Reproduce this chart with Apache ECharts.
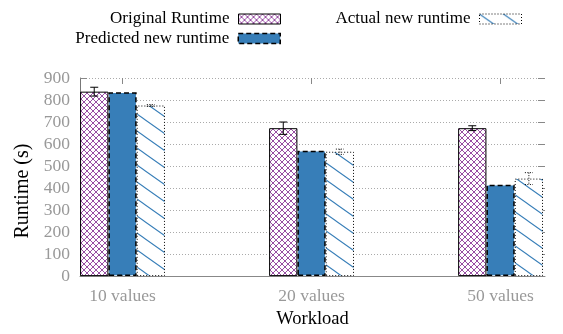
<!DOCTYPE html>
<html>
<head>
<meta charset="utf-8">
<script src="https://cdn.jsdelivr.net/npm/echarts@6/dist/echarts.min.js"></script>
<style>
  html, body { margin: 0; padding: 0; background: #fff; }
  #chart { width: 563px; height: 334px; }
</style>
</head>
<body>
<div id="chart"></div>
<script>
// Workload categories and measured runtimes (seconds)
const categories = ['10 values', '20 values', '50 values'];
const originalRuntime = [838, 672, 672];
const originalErr = [20, 28, 11];
const predictedRuntime = [835, 570, 415];
const actualRuntime = [775, 565, 443];
const actualErr = [4, 12, 27];
const categoryTicks = [0, 1, 2];

const FONT = '"Liberation Serif", "Times New Roman", Times, serif';
const PURPLE = '#984ea3';
const BLUE = '#377eb8';
const BAR_W = 28.3;
const DASHED = [5, 3];
const DOTTED = [1, 2];

// Crosshatch fill (diagonal grid) used for the original runtime bars
function crossHatch() {
  const s = 6;
  const c = document.createElement('canvas');
  c.width = s; c.height = s;
  const g = c.getContext('2d');
  g.fillStyle = '#fff'; g.fillRect(0, 0, s, s);
  g.strokeStyle = PURPLE; g.lineWidth = 1;
  g.beginPath();
  // "\" direction: y = x + k
  for (const k of [-s, 0, s]) {
    g.moveTo(-1, -1 + k); g.lineTo(s + 1, s + 1 + k);
  }
  // "/" direction: x + y = k
  for (const k of [0, s, 2 * s]) {
    g.moveTo(-1, k + 1); g.lineTo(k + 1, -1);
  }
  g.stroke();
  return c;
}

// Sparse "\" diagonal lines used for the actual runtime bars
function diagLines() {
  const w = 24, h = 17;
  const c = document.createElement('canvas');
  c.width = w; c.height = h;
  const g = c.getContext('2d');
  g.fillStyle = '#fff'; g.fillRect(0, 0, w, h);
  g.strokeStyle = BLUE; g.lineWidth = 1.1;
  g.beginPath();
  for (const k of [-h, 0, h]) {
    g.moveTo(-w, -h + k); g.lineTo(2 * w, 2 * h + k);
  }
  g.stroke();
  return c;
}

const hatchFill = { image: crossHatch(), repeat: 'repeat' };
const lineFill = { image: diagLines(), repeat: 'repeat' };

// I-beam error bars, shifted horizontally onto the matching bar
function errorBars(offsetPx, dash) {
  return function (params, api) {
    const i = api.value(0), v = api.value(1), e = api.value(2);
    const hi = api.coord([i, v + e]);
    const lo = api.coord([i, v - e]);
    const x = hi[0] + offsetPx;
    const cap = 4;
    const st = { stroke: '#000', lineWidth: 1, lineDash: dash };
    return {
      type: 'group',
      children: [
        { type: 'line', shape: { x1: x, y1: hi[1], x2: x, y2: lo[1] }, style: st },
        { type: 'line', shape: { x1: x - cap, y1: hi[1], x2: x + cap, y2: hi[1] }, style: st },
        { type: 'line', shape: { x1: x - cap, y1: lo[1], x2: x + cap, y2: lo[1] }, style: st }
      ]
    };
  };
}

const xMin = -0.225, xMax = 2.235;
const axisGray = '#888';
const labelGray = '#999';

const legendBase = {
  orient: 'vertical',
  align: 'right',
  padding: 0,
  itemWidth: 42,
  itemHeight: 10,
  icon: 'rect',
  selectedMode: false,
  textStyle: { fontFamily: FONT, fontSize: 17, color: '#000', padding: [0, 4, 0, 0] }
};

const chart = echarts.init(document.getElementById('chart'), null, { renderer: 'canvas' });
chart.setOption({
  animation: false,
  backgroundColor: '#fff',
  textStyle: { fontFamily: FONT },
  legend: [
    Object.assign({}, legendBase, {
      data: [{ name: 'Original Runtime', itemStyle: { borderColor: '#000', borderWidth: 1 } }],
      right: 282, top: 10.5
    }),
    Object.assign({}, legendBase, {
      data: [{ name: 'Predicted new runtime', itemStyle: { borderColor: '#000', borderWidth: 1.5, borderType: DASHED } }],
      right: 282, top: 30
    }),
    Object.assign({}, legendBase, {
      data: [{ name: 'Actual new runtime', itemStyle: { borderColor: '#000', borderWidth: 1, borderType: DOTTED } }],
      right: 41, top: 10.5
    })
  ],
  grid: { left: 80, right: 18, top: 78, bottom: 53, containLabel: false },
  xAxis: [
    {
      type: 'value', min: xMin, max: xMax,
      name: 'Workload', nameLocation: 'middle', nameGap: 32,
      nameTextStyle: { fontFamily: FONT, fontSize: 18.5, color: '#000' },
      axisLine: { show: true, onZero: false, lineStyle: { color: axisGray, width: 1 } },
      axisTick: { show: true, inside: true, length: 6, customValues: categoryTicks, lineStyle: { color: axisGray } },
      axisLabel: {
        customValues: categoryTicks, margin: 11,
        fontFamily: FONT, fontSize: 17.5, color: labelGray,
        formatter: v => categories[Math.round(v)]
      },
      splitLine: { show: false }
    },
    {
      type: 'value', min: xMin, max: xMax, position: 'top',
      axisLine: { show: false, onZero: false },
      axisTick: { show: true, inside: true, length: 6, customValues: categoryTicks, lineStyle: { color: axisGray } },
      axisLabel: { show: false },
      splitLine: { show: false }
    }
  ],
  yAxis: [
    {
      type: 'value', min: 0, max: 900, interval: 100,
      name: 'Runtime (s)', nameLocation: 'middle', nameGap: 41,
      nameTextStyle: { fontFamily: FONT, fontSize: 20, color: '#000', padding: [0, 28, 0, 0] },
      axisLine: { show: true, onZero: false, lineStyle: { color: '#777', width: 1 } },
      axisTick: { show: true, inside: true, length: 7, lineStyle: { color: axisGray } },
      axisLabel: { fontFamily: FONT, fontSize: 17.5, color: labelGray, margin: 10 },
      splitLine: { show: true, lineStyle: { color: '#aaa', width: 1, type: [1, 2] } }
    },
    {
      type: 'value', min: 0, max: 900, interval: 100, position: 'right',
      axisLine: { show: false, onZero: false },
      axisTick: { show: true, inside: true, length: 7, lineStyle: { color: axisGray } },
      axisLabel: { show: false },
      splitLine: { show: false }
    }
  ],
  series: [
    {
      name: 'Original Runtime', type: 'bar', barWidth: BAR_W, barGap: '0%',
      itemStyle: { color: hatchFill, borderColor: '#000', borderWidth: 1 },
      data: categories.map((c, i) => [i, originalRuntime[i]]),
      z: 2
    },
    {
      name: 'Predicted new runtime', type: 'bar', barWidth: BAR_W, barGap: '0%',
      itemStyle: { color: BLUE, borderColor: '#000', borderWidth: 1.5, borderType: DASHED },
      data: categories.map((c, i) => [i, predictedRuntime[i]]),
      z: 2
    },
    {
      name: 'Actual new runtime', type: 'bar', barWidth: BAR_W, barGap: '0%',
      itemStyle: { color: lineFill, borderColor: '#000', borderWidth: 1, borderType: DOTTED },
      data: categories.map((c, i) => [i, actualRuntime[i]]),
      z: 2
    },
    {
      type: 'custom', renderItem: errorBars(-BAR_W, null),
      encode: { x: 0, y: 1 },
      data: categories.map((c, i) => [i, originalRuntime[i], originalErr[i]]),
      z: 5, silent: true
    },
    {
      type: 'custom', renderItem: errorBars(BAR_W, [1, 1.5]),
      encode: { x: 0, y: 1 },
      data: categories.map((c, i) => [i, actualRuntime[i], actualErr[i]]),
      z: 5, silent: true
    }
  ]
});
</script>
</body>
</html>
